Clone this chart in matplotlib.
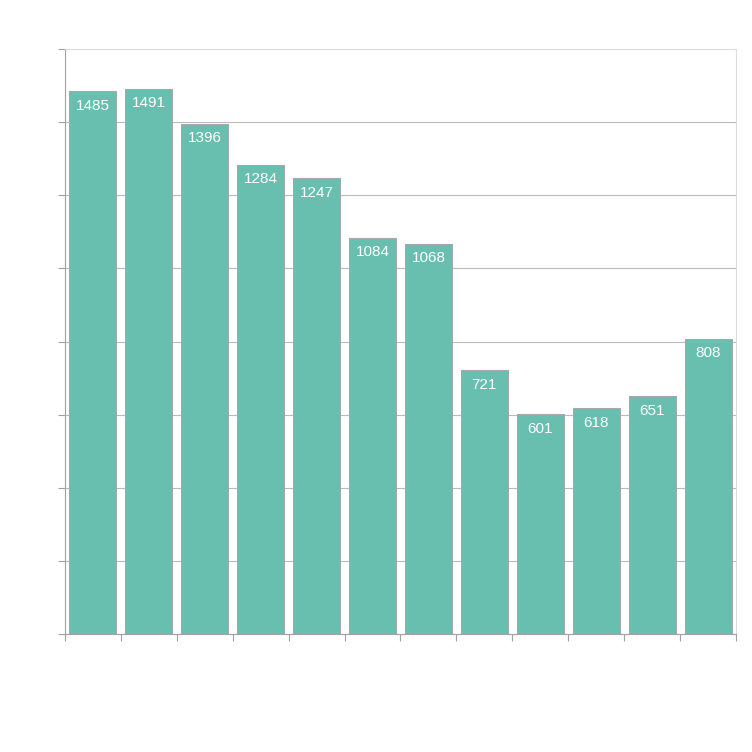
import matplotlib.pyplot as plt

# dados
categorias = [str(i) for i in range(1, 13)]
valores = [1485, 1491, 1396, 1284, 1247, 1084, 1068, 721, 601, 618, 651, 808]
yticks = [0, 200, 400, 600, 800, 1000, 1200, 1400, 1600]

plt.rcParams["font.family"] = ["Liberation Sans", "DejaVu Sans"]

fig = plt.figure(figsize=(7.52, 7.52), dpi=100)
ax = fig.add_axes([65 / 752, (752 - 634) / 752, (736 - 65) / 752, (634 - 49) / 752])

x = list(range(len(valores)))
bars = ax.bar(x, valores, width=0.84, color="#68bfb0", edgecolor="#a8a8a8", linewidth=0.8, zorder=3)

for xi, v in zip(x, valores):
    ax.text(xi, v - 40, str(v), ha="center", va="center", color="white", fontsize=11, zorder=4)

ax.set_xlim(-0.5, len(valores) - 0.5)
ax.set_ylim(0, 1600)
ax.set_yticks(yticks)
ax.set_yticklabels([])
ax.set_xticks([i - 0.5 for i in range(len(valores) + 1)])
ax.set_xticklabels([])
ax.tick_params(axis="both", length=5, color="#a0a0a0", width=0.8)
ax.grid(axis="y", color="#bbbbbb", linewidth=0.8, zorder=0)

for lado in ["top", "right"]:
    ax.spines[lado].set_color("#dddddd")
for lado in ["left", "bottom"]:
    ax.spines[lado].set_color("#a0a0a0")
for s in ax.spines.values():
    s.set_linewidth(0.8)

plt.savefig("out.png", dpi=100)
plt.close()
